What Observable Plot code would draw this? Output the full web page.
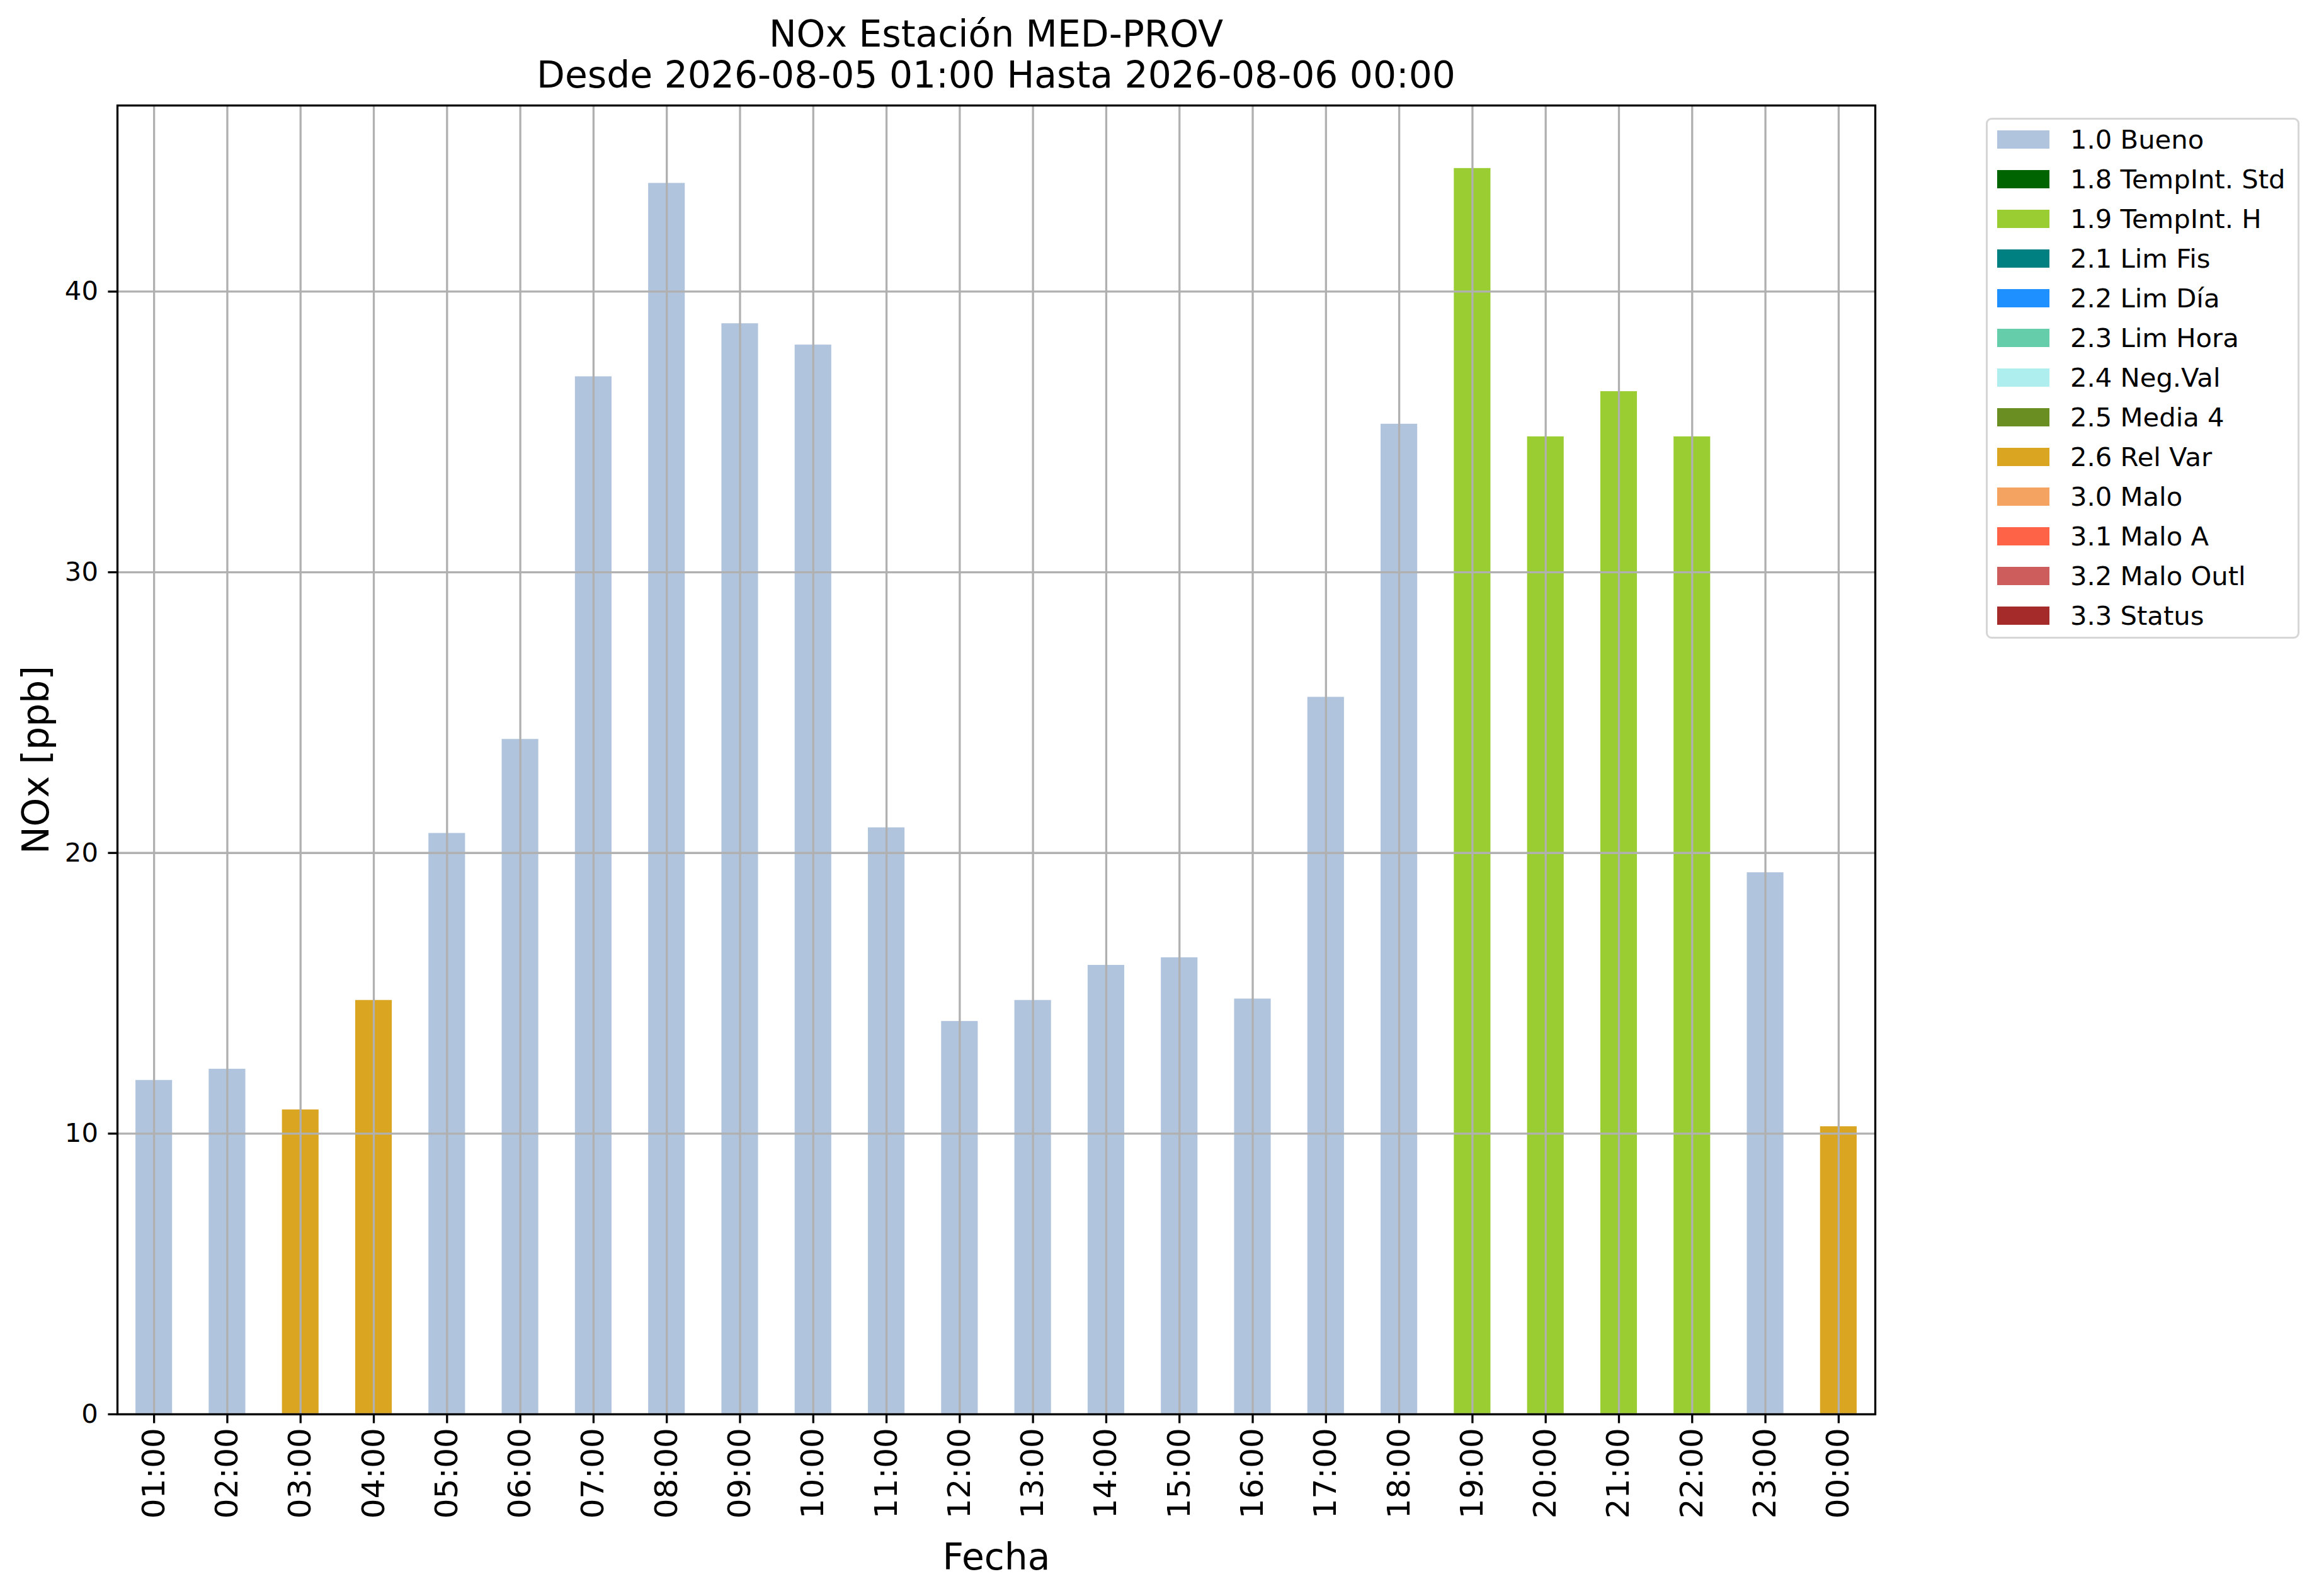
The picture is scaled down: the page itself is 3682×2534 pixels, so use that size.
<!DOCTYPE html>
<html>
<head>
<meta charset="utf-8">
<script src="https://cdn.jsdelivr.net/npm/d3@7"></script>
<script src="https://cdn.jsdelivr.net/npm/@observablehq/plot@0.6"></script>
<style>
  html, body { margin: 0; padding: 0; background: #fff; }
  #wrap { position: relative; width: 3682px; height: 2534px; font-family: "DejaVu Sans", sans-serif; color: #000; }
  #title { position: absolute; left: 0; top: 22px; width: 3163px; text-align: center; font-size: 58.3px; line-height: 65px; white-space: nowrap; }
  #legend { position: absolute; left: 3153px; top: 187px; width: 498px; box-sizing: border-box; border: 3.3px solid #d6d6d6; border-radius: 9px; background: #fff; padding: 0 0 2px 15px; }
  .row { display: flex; align-items: center; height: 63px; }
  .sw { width: 83px; height: 29px; flex: none; }
  .lab { margin-left: 33px; font-size: 41.7px; white-space: nowrap; line-height: 63px; }
  #chart { position: absolute; left: 0; top: 0; }
</style>
</head>
<body>
<div id="wrap">
  <div id="chart"></div>
  <div id="title"></div>
  <div id="legend"></div>
</div>
<script>
// ---- data ----
const titleLines = ["NOx Estación MED-PROV", "Desde 2026-08-05 01:00 Hasta 2026-08-06 00:00"];
const hours = ["01:00","02:00","03:00","04:00","05:00","06:00","07:00","08:00","09:00","10:00","11:00","12:00",
               "13:00","14:00","15:00","16:00","17:00","18:00","19:00","20:00","21:00","22:00","23:00","00:00"];
const values = [11.9, 12.3, 10.85, 14.75, 20.7, 24.05, 36.97, 43.86, 38.86, 38.1, 20.9, 14.0,
                14.75, 16.0, 16.27, 14.8, 25.55, 35.28, 44.39, 34.83, 36.44, 34.83, 19.3, 10.25];
const flags = ["1.0 Bueno","1.0 Bueno","2.6 Rel Var","2.6 Rel Var","1.0 Bueno","1.0 Bueno","1.0 Bueno","1.0 Bueno",
               "1.0 Bueno","1.0 Bueno","1.0 Bueno","1.0 Bueno","1.0 Bueno","1.0 Bueno","1.0 Bueno","1.0 Bueno",
               "1.0 Bueno","1.0 Bueno","1.9 TempInt. H","1.9 TempInt. H","1.9 TempInt. H","1.9 TempInt. H",
               "1.0 Bueno","2.6 Rel Var"];
const flagLabels = ["1.0 Bueno","1.8 TempInt. Std","1.9 TempInt. H","2.1 Lim Fis","2.2 Lim Día","2.3 Lim Hora",
                    "2.4 Neg.Val","2.5 Media 4","2.6 Rel Var","3.0 Malo","3.1 Malo A","3.2 Malo Outl","3.3 Status"];
const flagColors = ["#b0c4de","#006400","#9acd32","#008080","#1e90ff","#66cdaa",
                    "#afeeee","#6b8e23","#daa520","#f4a460","#ff6347","#cd5c5c","#a52a2a"];
const yTicks = [0, 10, 20, 30, 40];
const yLabel = "NOx [ppb]";
const xLabel = "Fecha";
const yMax = 46.63;

// ---- build ----
const data = hours.map((h, i) => ({hour: h, value: values[i], flag: flags[i]}));
const grid = {stroke: "#b0b0b0", strokeOpacity: 1, strokeWidth: 3.3};

const chart = Plot.plot({
  width: 3682,
  height: 2534,
  marginLeft: 186,
  marginRight: 705,
  marginTop: 167,
  marginBottom: 289,
  style: {fontFamily: "DejaVu Sans", background: "transparent", color: "#000", overflow: "visible"},
  x: {type: "band", domain: hours, paddingInner: 0.5, paddingOuter: 0.25, round: false, label: null},
  y: {domain: [0, yMax], label: null},
  color: {domain: flagLabels, range: flagColors},
  marks: [
    Plot.barY(data, {x: "hour", y: "value", fill: "flag"}),
    Plot.gridX(hours, grid),
    Plot.gridY(yTicks, grid),
    Plot.frame({stroke: "#000", strokeWidth: 3.3}),
    Plot.axisX(hours, {tickRotate: -90, fontSize: 50, tickSize: 14.6, tickPadding: 7, strokeWidth: 3.3, label: null}),
    Plot.axisX([], {label: xLabel, labelAnchor: "center", labelArrow: "none", labelOffset: 246, fontSize: 58.3, tickSize: 0}),
    Plot.axisY(yTicks, {fontSize: 41.7, tickSize: 14.6, tickPadding: 16, strokeWidth: 3.3, label: null}),
    Plot.axisY([], {label: yLabel, labelAnchor: "center", labelArrow: "none", labelOffset: 151, fontSize: 58.3, tickSize: 0})
  ]
});
document.getElementById("chart").appendChild(chart);

const t = document.getElementById("title");
titleLines.forEach(s => { const d = document.createElement("div"); d.textContent = s; t.appendChild(d); });

const lg = document.getElementById("legend");
flagLabels.forEach((lab, i) => {
  const r = document.createElement("div"); r.className = "row";
  const sw = document.createElement("div"); sw.className = "sw"; sw.style.background = flagColors[i];
  const tx = document.createElement("div"); tx.className = "lab"; tx.textContent = lab;
  r.appendChild(sw); r.appendChild(tx); lg.appendChild(r);
});
</script>
</body>
</html>
